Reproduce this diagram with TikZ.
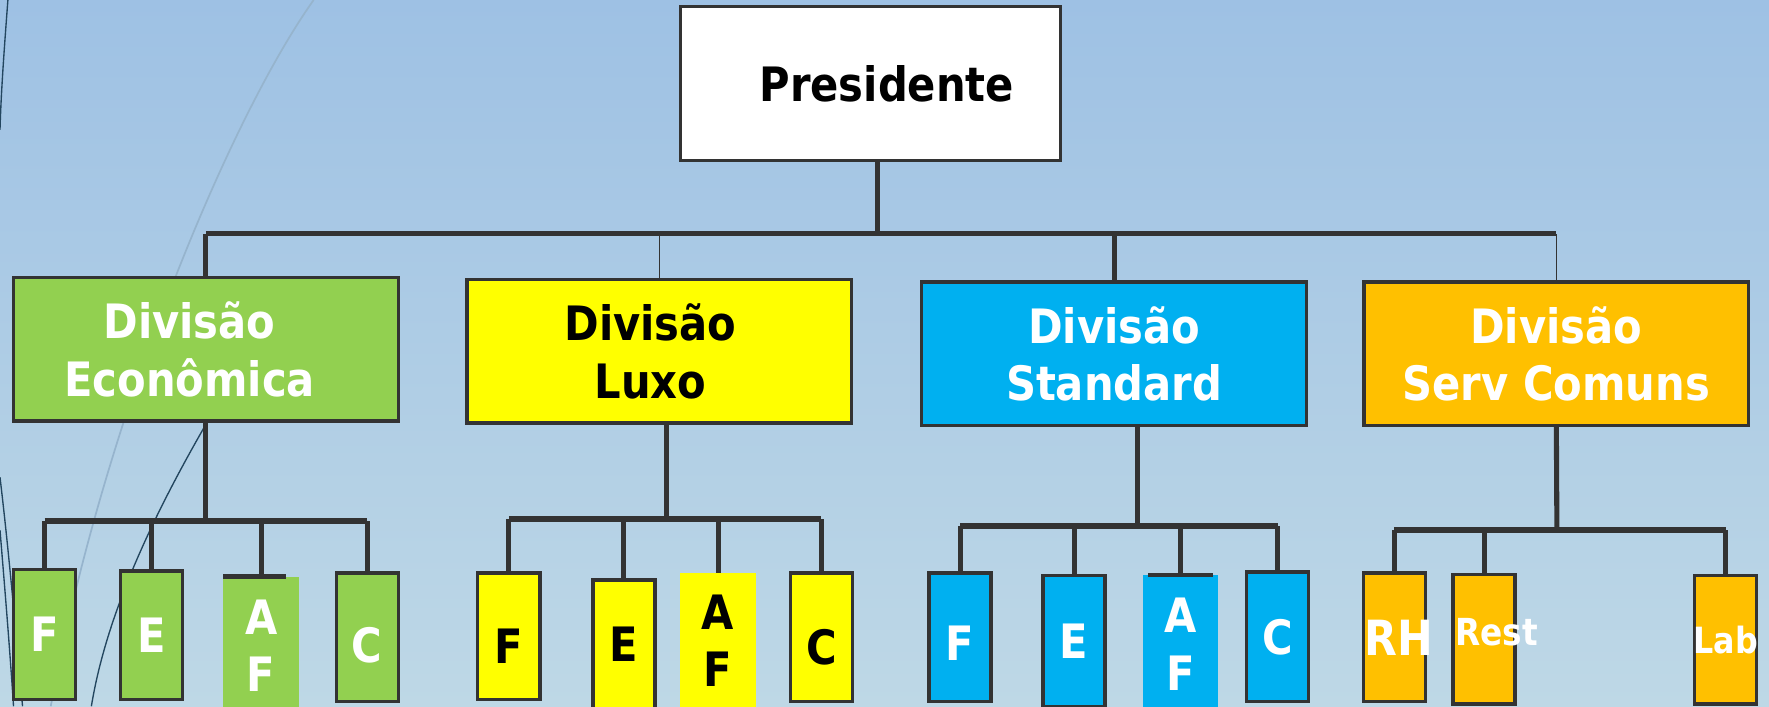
\documentclass[tikz,border=0pt]{standalone}
\usepackage{fontspec}
\setmainfont{DejaVu Sans}[FakeStretch=0.88]
\usepackage{tikz}
\usetikzlibrary{calc}
\definecolor{bgtop}{RGB}{158,193,228}
\definecolor{bgbot}{RGB}{190,216,230}
\definecolor{linegray}{RGB}{51,51,51}
\definecolor{ecogreen}{RGB}{146,208,80}
\definecolor{luxyellow}{RGB}{255,255,0}
\definecolor{stdblue}{RGB}{0,176,240}
\definecolor{servorange}{RGB}{255,192,0}
\definecolor{wispdark}{RGB}{35,70,95}
\definecolor{wisplight}{RGB}{150,180,205}
\newcommand\boxfont{\fontsize{42}{51}\selectfont\bfseries}
\newcommand\drop[2]{\raisebox{-#1}[\height][0pt]{#2}}

\begin{document}
\begin{tikzpicture}
[x=1pt, y=-1pt,
 bus/.style={line width=5pt, draw=linegray},
 stem/.style={line width=4.5pt, draw=linegray},
 thinstem/.style={line width=1.2pt, draw=linegray},
 bar/.style={line width=4pt, draw=linegray},
 boss/.style={rectangle, draw=linegray, line width=3pt, fill=white, minimum width=337, minimum height=136, inner sep=0, font=\boxfont},
 div/.style={rectangle, draw=linegray, line width=3pt, minimum width=341, minimum height=127, inner sep=0, align=center, font=\boxfont},
 sub/.style={rectangle, draw=linegray, line width=3pt, minimum width=55, inner sep=0, font=\boxfont},
 afsub/.style={rectangle, minimum width=67, inner sep=0, align=center, font=\boxfont},
 wisp/.style={line width=1.2pt, draw=wispdark},
 wispl/.style={line width=1.5pt, draw=wisplight}]
\useasboundingbox (0,0) rectangle (1568,626);
\clip (0,0) rectangle (1568,626);
\shade[top color=bgtop, bottom color=bgbot] (0,0) rectangle (1568,626);
% background wisps
\draw[wispl] (278,0) .. controls (200,110) and (90,380) .. (45,626);
\draw[wisp] (182,377) .. controls (140,450) and (95,540) .. (81,626);
\draw[wisp] (7,0) .. controls (4,40) and (1,80) .. (0,115);
\draw[wisp] (0,423) .. controls (8,490) and (14,560) .. (20,626);
\draw[wisp] (0,470) .. controls (5,530) and (9,580) .. (12,626);

\node[boss] (pres) at (771.5,74) {\hspace*{29pt}Presidente};
\node[div, fill=ecogreen,   text=white] (eco) at (182.5,309.5) {\hspace*{-29pt}Divisão\\\hspace*{-29pt}Econômica};
\node[div, fill=luxyellow,  text=black] (lux) at (584.5,311.5) {\hspace*{-16pt}Divisão\\\hspace*{-16pt}Luxo};
\node[div, fill=stdblue,    text=white] (std) at (987.5,313.5) {Divisão\\Standard};
\node[div, fill=servorange, text=white] (srv) at (1379.5,313.5) {Divisão\\Serv Comuns};

\coordinate (topbus) at (778,207);
\draw[stem] (topbus |- pres.south) -- (topbus);
\draw[bus] (eco.north |- topbus) -- (srv.north |- topbus);
\draw[stem] (eco.north) -- (eco.north |- topbus);
\draw[thinstem] (lux.north) -- (lux.north |- topbus);
\draw[stem] (std.north) -- (std.north |- topbus);
\draw[thinstem] (srv.north) -- (srv.north |- topbus);

% Economica
\foreach \nam/\cx/\cy/\hgt/\lab in {ecf/39.5/562.5/115/F, ece/134.5/563/114/E, ecc/325.5/565/114/{\drop{7pt}{C}}}
  \node[sub, fill=ecogreen, text=white, minimum height=\hgt] (\nam) at (\cx,\cy) {\lab};
\node[afsub, fill=ecogreen, text=white, minimum height=123] (ecaf) at (231.5,572.5) {A\\F};
\coordinate (ecobus) at (182.5,462);
\draw[stem] (eco.south) -- (ecobus);
\draw[bus] (ecf.north |- ecobus) -- (ecc.north |- ecobus);
\foreach \kid in {ecf, ece, ecaf, ecc}
  \draw[stem] (\kid.north) -- (\kid.north |- ecobus);
\draw[bar] (ecaf.north west) -- ++(56,0);

% Luxo
\foreach \nam/\cx/\cy/\hgt/\lab in {lxf/451/564/112/{\drop{9pt}{F}}, lxe/553/571/114/E, lxc/728/565/114/{\drop{8pt}{C}}}
  \node[sub, fill=luxyellow, text=black, minimum height=\hgt] (\nam) at (\cx,\cy) {\lab};
\node[afsub, fill=luxyellow, text=black, minimum height=120] (lxaf) at (636.5,568) {A\\F};
\coordinate (luxbus) at (591,460);
\draw[stem] (luxbus |- lux.south) -- (luxbus);
\draw[bus] (lxf.north |- luxbus) -- (lxc.north |- luxbus);
\foreach \kid in {lxf, lxe, lxaf, lxc}
  \draw[stem] (\kid.north) -- (\kid.north |- luxbus);

% Standard
\foreach \nam/\cx/\cy/\hgt/\lab in {stf/851/565/114/{\drop{5pt}{F}}, ste/952/568/116/E, stc/1132.5/564.5/115/C}
  \node[sub, fill=stdblue, text=white, minimum height=\hgt] (\nam) at (\cx,\cy) {\lab};
\node[afsub, fill=stdblue, text=white, minimum height=122] (staf) at (1046.5,571) {A\\F};
\coordinate (stdbus) at (1008,466);
\draw[stem] (stdbus |- std.south) -- (stdbus);
\draw[bus] (stf.north |- stdbus) -- (stc.north |- stdbus);
\foreach \kid in {stf, ste, staf, stc}
  \draw[stem] (\kid.north) -- (\kid.north |- stdbus);
\draw[bar] ([xshift=5]staf.north west) -- ++(57,0);

% Serv Comuns
\node[sub, fill=servorange, text=white, minimum height=114] (rh)   at (1236,565)    {\makebox[0pt]{\fontsize{43}{51}\selectfont\hspace*{8pt}RH}};
\node[sub, fill=servorange, text=white, minimum height=115] (rest) at (1315.5,566.5) {\makebox[0pt]{\fontsize{33}{40}\selectfont\hspace*{22pt}\drop{-6pt}{Rest}}};
\node[sub, fill=servorange, text=white, minimum height=114] (lab)  at (1529.5,567)  {\makebox[0pt]{\fontsize{32}{40}\selectfont Lab}};
\coordinate (srvbus) at (1380,470);
\draw[stem] (srv.south) -- (srvbus);
\draw[bus] (rh.north |- srvbus) -- (lab.north |- srvbus);
\foreach \kid in {rh, rest, lab}
  \draw[stem] (\kid.north) -- (\kid.north |- srvbus);
\end{tikzpicture}
\end{document}
